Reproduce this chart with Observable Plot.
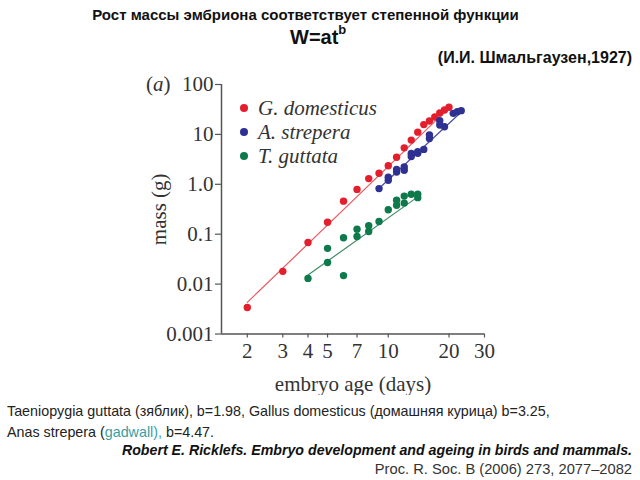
<!DOCTYPE html>
<html><head><meta charset="utf-8">
<script src="https://cdn.jsdelivr.net/npm/d3@7"></script>
<script src="https://cdn.jsdelivr.net/npm/@observablehq/plot@0.6"></script>
<style>
body{margin:0;width:640px;height:480px;position:relative;background:#fff;font-family:"Liberation Sans",Arial,sans-serif;color:#111;overflow:hidden}
.abs{position:absolute;white-space:nowrap}
#chart{position:absolute;left:0;top:0}
.leg{position:absolute;left:240px;font-family:"Liberation Serif",serif;font-style:italic;font-size:21px;color:#333;line-height:24px}
.leg span{display:inline-block;width:8px;height:8px;border-radius:50%;margin-right:10px;vertical-align:middle;position:relative;top:-2px}
</style></head>
<body>
<div class="abs" style="left:0;width:611px;top:6px;text-align:center;font-weight:bold;font-size:15px">Рост массы эмбриона соответствует степенной функции</div>
<div class="abs" style="left:290px;top:24px;font-weight:bold;font-size:20px">W=at<sup style="font-size:13px;position:relative;top:-2px">b</sup></div>
<div class="abs" style="right:8px;top:49px;font-weight:bold;font-size:16px">(И.И. Шмальгаузен,1927)</div>
<div id="chart"></div>
<div class="abs" style="left:146px;top:72px;font-family:'Liberation Serif',serif;font-size:21px;color:#333">(<i>a</i>)</div>
<div id="legend"></div>
<div class="abs" style="left:7px;top:401px;font-size:14.3px;line-height:21px;color:#222">Taeniopygia guttata (зяблик), b=1.98, Gallus domesticus (домашняя курица) b=3.25,<br>Anas strepera (<span style="color:#3a9ea0">gadwall),</span> b=4.47.</div>
<div class="abs" style="right:8px;top:442px;font-size:14.2px;font-weight:bold;font-style:italic;color:#111">Robert E. Ricklefs. Embryo development and ageing in birds and mammals.</div>
<div class="abs" style="right:8px;top:461px;font-size:14.7px;color:#333">Proc. R. Soc. B (2006) 273, 2077–2082</div>
<script>
// ---- data ----
const species = ["G. domesticus", "A. strepera", "T. guttata"];
const colors = ["#e41f2d", "#2e3192", "#0e7a4c"];
const lineColors = ["#ea5a62", "#4a4ea0", "#3f8c66"];

const domDays = [2,3,4,5,6,7,8,9,10,11,12,13,14,15,16,17,18,19,20];
const domMass = [0.0034,0.018,0.068,0.174,0.46,0.79,1.30,1.66,2.36,3.49,5.37,7.68,11.1,15.7,18.5,22.3,26.8,30.8,34.9];

const strDays = [9,10,10,11,11,12,12,13,13,14,14,15,16,16,18,18,19,21,22,23];
const strMass = [0.82,1.2,1.38,1.77,1.98,1.91,2.23,3.6,4.15,4.2,4.5,5.0,8.3,9.7,15.4,18.8,14.2,26.4,28.5,29.9];

const gutDays = [4,5,5,6,6,7,7,8,8,9,10,11,11,12,12,13,14,14];
const gutMass = [0.013,0.027,0.052,0.0148,0.085,0.09,0.126,0.113,0.148,0.18,0.31,0.38,0.48,0.42,0.58,0.63,0.63,0.54];

// fitted lines (end points)
const domFitDays = [2, 20.3], domFitMass = [0.0043, 36];
const strFitDays = [8.8, 23.3], strFitMass = [0.76, 29.4];
const gutFitDays = [4, 14], gutFitMass = [0.0152, 0.56];

const xTicks = [2,3,4,5,7,10,20,30];
const yTicks = [0.001,0.01,0.1,1,10,100];
const yTickLabels = ["0.001","0.01","0.1","1.0","10","100"];
const yLabelOf = new Map(yTicks.map((t,i) => [t, yTickLabels[i]]));

const pts = (days, mass, s) => days.map((d,i) => ({day:d, mass:mass[i], s}));
const points = [
  ...pts(domDays, domMass, species[0]),
  ...pts(strDays, strMass, species[1]),
  ...pts(gutDays, gutMass, species[2])
];
const fits = [
  ...pts(domFitDays, domFitMass, species[0]),
  ...pts(strFitDays, strFitMass, species[1]),
  ...pts(gutFitDays, gutFitMass, species[2])
];

const chart = Plot.plot({
  width: 640, height: 395,
  marginLeft: 221, marginRight: 156, marginTop: 84, marginBottom: 61.5,
  style: {fontFamily:"Liberation Serif, serif", fontSize:"21px", color:"#333", background:"transparent"},
  x: {type:"log", domain:[1.49, 30]},
  y: {type:"log", domain:[0.001, 100]},
  color: {domain: species, range: colors},
  marks: [
    Plot.axisX({ticks:xTicks, tickFormat:d=>String(d), tickSize:4, tickPadding:5, stroke:"#555", strokeWidth:1.2,
      label:"embryo age (days)", labelAnchor:"center", labelArrow:"none", labelOffset:57, fontSize:21}),
    Plot.axisY({ticks:yTicks, tickFormat:d=>yLabelOf.get(d) ?? "", tickSize:6, tickPadding:2, stroke:"#555", strokeWidth:1.2,
      label:"mass (g)", labelAnchor:"center", labelArrow:"none", labelOffset:70, fontSize:21}),
    Plot.ruleY([0.001], {stroke:"#555", strokeWidth:1.5}),
    Plot.ruleX([1.49], {stroke:"#555", strokeWidth:1.5}),
    Plot.line(fits, {x:"day", y:"mass", z:"s", stroke:d=>lineColors[species.indexOf(d.s)], strokeWidth:1.2}),
    Plot.dot(points, {x:"day", y:"mass", fill:"s", r:3.7, stroke:"none"})
  ]
});
document.getElementById("chart").appendChild(chart);

const leg = document.getElementById("legend");
species.forEach((s,i) => {
  const div = document.createElement("div");
  div.className = "leg";
  div.style.top = (96 + i*24) + "px";
  div.innerHTML = `<span style="background:${colors[i]}"></span>${s}`;
  leg.appendChild(div);
});
</script>
</body></html>
